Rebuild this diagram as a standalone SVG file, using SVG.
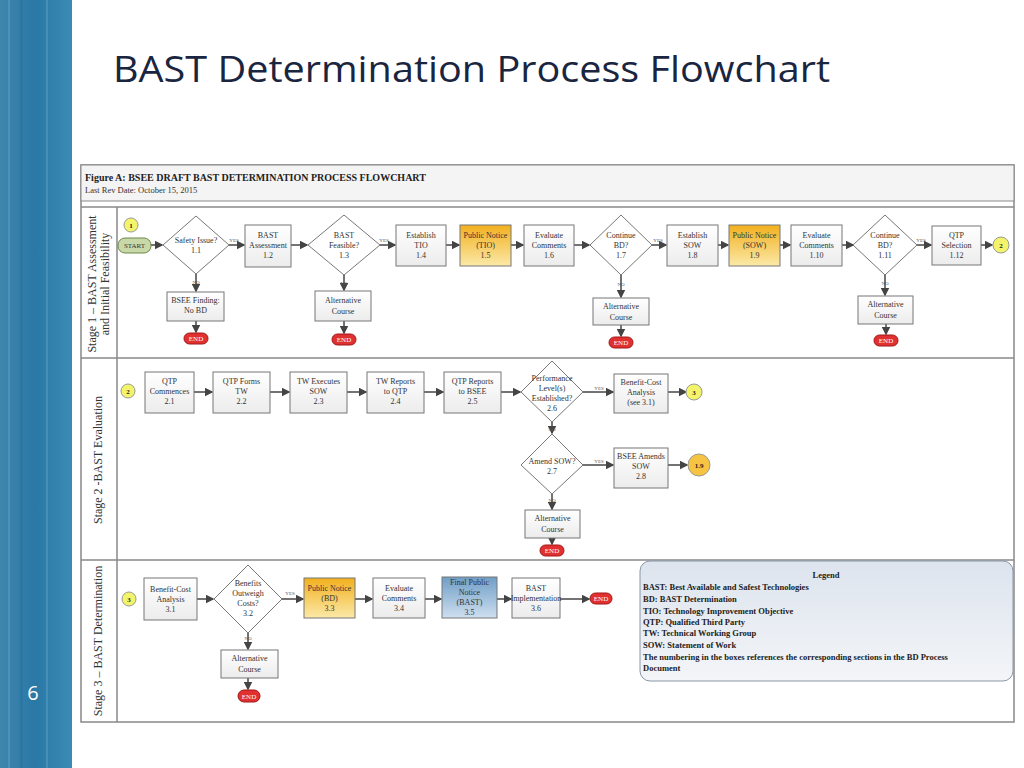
<svg xmlns="http://www.w3.org/2000/svg" width="1024" height="768" viewBox="0 0 1024 768">
<defs>
<linearGradient id="bg" x1="0" y1="0" x2="1" y2="0"><stop offset="0" stop-color="#3f86ad"/><stop offset="0.5" stop-color="#2a78a6"/><stop offset="1" stop-color="#3b8bb5"/></linearGradient>
<linearGradient id="yel" x1="0" y1="0" x2="0" y2="1"><stop offset="0" stop-color="#f2b01e"/><stop offset="1" stop-color="#fbe9a8"/></linearGradient>
<linearGradient id="blu" x1="0" y1="0" x2="0" y2="1"><stop offset="0" stop-color="#6f9ec6"/><stop offset="1" stop-color="#cfdff0"/></linearGradient>
<linearGradient id="box" x1="0" y1="0" x2="0" y2="1"><stop offset="0" stop-color="#ffffff"/><stop offset="1" stop-color="#ececec"/></linearGradient>
<linearGradient id="leg" x1="0" y1="0" x2="0" y2="1"><stop offset="0" stop-color="#dde4ee"/><stop offset="1" stop-color="#f3f5f8"/></linearGradient>
<marker id="ar" markerWidth="6" markerHeight="6" refX="5" refY="3" orient="auto"><path d="M0,0 L6,3 L0,6 z" fill="#444"/></marker>
</defs>
<style>
.t{font-family:"Liberation Serif",serif;font-size:8px;fill:#333;text-anchor:middle}
.s{font-family:"Liberation Serif",serif;font-size:5px;fill:#555;text-anchor:middle}
.b{fill:url(#box);stroke:#777;stroke-width:1}
.d{fill:#fff;stroke:#777;stroke-width:1}
.end{fill:#e03030;stroke:#a01818;stroke-width:1}
.et{font-family:"Liberation Serif",serif;font-size:7px;fill:#fff;text-anchor:middle}
.c{fill:#f4f46a;stroke:#999;stroke-width:1}
.ct{font-family:"Liberation Serif",serif;font-size:7px;font-weight:bold;fill:#222;text-anchor:middle}
.cn path{stroke:#444;stroke-width:1.5;fill:none;marker-end:url(#ar)}
.lane{font-family:"Liberation Serif",serif;font-size:12px;fill:#333;text-anchor:middle}
.lg{font-family:"Liberation Serif",serif;font-size:8.5px;font-weight:bold;fill:#222}
</style>
<rect width="1024" height="768" fill="#fff"/>
<rect x="0" y="0" width="72" height="768" fill="url(#bg)"/>
<rect x="8" y="0" width="2" height="768" fill="#5a9cc2" opacity="0.6"/>
<rect x="20" y="0" width="3" height="768" fill="#2370a0" opacity="0.5"/>
<rect x="46" y="0" width="2" height="768" fill="#5aa0c6" opacity="0.5"/>
<text x="33" y="700" font-family="Open Sans,sans-serif" font-size="20" fill="#fff" text-anchor="middle">6</text>
<text x="113" y="82" font-family="Open Sans,sans-serif" font-size="37" fill="#1a2540" textLength="717" lengthAdjust="spacingAndGlyphs">BAST Determination Process Flowchart</text>

<g id="frame">
<rect x="81" y="165" width="933" height="557" fill="#fff" stroke="#888" stroke-width="1.5"/>
<rect x="81" y="165" width="933" height="36" fill="#f4f4f4" stroke="#888"/>
<text x="85" y="181" font-family="Liberation Serif,serif" font-size="10" font-weight="bold" fill="#222">Figure A: BSEE DRAFT BAST  DETERMINATION PROCESS FLOWCHART</text>
<text x="85" y="193" font-family="Liberation Serif,serif" font-size="8.5" fill="#333">Last Rev Date: October 15, 2015</text>
<line x1="81" y1="207" x2="1014" y2="207" stroke="#888" stroke-width="1.5"/>
<line x1="81" y1="358" x2="1014" y2="358" stroke="#888" stroke-width="1.5"/>
<line x1="81" y1="560" x2="1014" y2="560" stroke="#888" stroke-width="1.5"/>
<line x1="117" y1="207" x2="117" y2="722" stroke="#888" stroke-width="1.5"/>
<text class="lane" transform="translate(96,284) rotate(-90)">Stage 1 – BAST Assessment</text>
<text class="lane" transform="translate(109,284) rotate(-90)">and Initial Feasibility</text>
<text class="lane" transform="translate(102,460) rotate(-90)">Stage 2 -BAST Evaluation</text>
<text class="lane" transform="translate(102,641) rotate(-90)">Stage 3 – BAST Determination</text>
</g>

<g class="cn" id="connectors">
<path d="M151,245 H162"/><path d="M229,245 H244"/><path d="M291,245 H307"/><path d="M380,245 H395"/>
<path d="M446,245 H459"/><path d="M511,245 H523"/><path d="M574,245 H589"/><path d="M652,245 H666"/>
<path d="M718,245 H728"/><path d="M780,245 H790"/><path d="M842,245 H853"/><path d="M917,245 H931"/><path d="M981,245 H992"/>
<path d="M196,274 V291"/><path d="M196,321 V332"/><path d="M344,275 V290"/><path d="M344,321 V333"/>
<path d="M621,275 V297"/><path d="M621,325 V336"/><path d="M885,275 V295"/><path d="M886,324 V334"/>
<path d="M194,392 H212"/><path d="M270,392 H289"/><path d="M347,392 H366"/><path d="M424,392 H443"/><path d="M501,392 H520"/>
<path d="M583,392 H613"/><path d="M668,392 H686"/><path d="M552,422 V433"/><path d="M583,465 H613"/><path d="M668,465 H687"/>
<path d="M552,494 V509"/><path d="M552,538 V544"/>
<path d="M197,599 H213"/><path d="M282,599 H303"/><path d="M355,599 H372"/><path d="M425,599 H441"/><path d="M497,599 H511"/><path d="M560,599 H589"/>
<path d="M248,633 V649"/><path d="M248,678 V689"/>
</g>
<g id="edge-labels">
<text class="s" x="234" y="242">YES</text><text class="s" x="384" y="242">YES</text><text class="s" x="658" y="242">YES</text><text class="s" x="921" y="242">YES</text>
<text class="s" x="196" y="284">NO</text><text class="s" x="344" y="285">NO</text><text class="s" x="621" y="286">NO</text><text class="s" x="885" y="285">NO</text>
<text class="s" x="599" y="390">YES</text><text class="s" x="552" y="431">NO</text><text class="s" x="599" y="463">YES</text><text class="s" x="552" y="502">NO</text>
<text class="s" x="290" y="595">YES</text><text class="s" x="248" y="640">NO</text>
</g>

<g id="n-c1"><circle class="c" cx="131" cy="225" r="7"/><text class="ct" x="131" y="228">1</text></g>
<g id="n-start"><rect x="118" y="238" width="33" height="15" rx="7" fill="#c8d8a8" stroke="#6a8a4a"/><text x="134.5" y="248" font-family="Liberation Serif,serif" font-size="7" fill="#333" text-anchor="middle">START</text></g>
<g id="n-1-1"><polygon class="d" points="196,216 229,245 196,274 163,245"/><text class="t" x="196" y="243">Safety Issue?</text><text class="t" x="196" y="253">1.1</text></g>
<g id="n-1-2"><rect class="b" x="245" y="225" width="46" height="42"/><text class="t" x="268" y="238">BAST</text><text class="t" x="268" y="248">Assessment</text><text class="t" x="268" y="258">1.2</text></g>
<g id="n-1-3"><polygon class="d" points="344,215 380,245 344,275 308,245"/><text class="t" x="344" y="238">BAST</text><text class="t" x="344" y="248">Feasible?</text><text class="t" x="344" y="258">1.3</text></g>
<g id="n-1-4"><rect class="b" x="396" y="225" width="50" height="41"/><text class="t" x="421" y="238">Establish</text><text class="t" x="421" y="248">TIO</text><text class="t" x="421" y="258">1.4</text></g>
<g id="n-1-5"><rect x="460" y="225" width="51" height="41" fill="url(#yel)" stroke="#777"/><text class="t" x="485.5" y="238">Public Notice</text><text class="t" x="485.5" y="248">(TIO)</text><text class="t" x="485.5" y="258">1.5</text></g>
<g id="n-1-6"><rect class="b" x="524" y="225" width="50" height="41"/><text class="t" x="549" y="238">Evaluate</text><text class="t" x="549" y="248">Comments</text><text class="t" x="549" y="258">1.6</text></g>
<g id="n-1-7"><polygon class="d" points="621,215 652,245 621,275 590,245"/><text class="t" x="621" y="238">Continue</text><text class="t" x="621" y="248">BD?</text><text class="t" x="621" y="258">1.7</text></g>
<g id="n-1-8"><rect class="b" x="667" y="225" width="51" height="41"/><text class="t" x="692.5" y="238">Establish</text><text class="t" x="692.5" y="248">SOW</text><text class="t" x="692.5" y="258">1.8</text></g>
<g id="n-1-9"><rect x="729" y="225" width="51" height="41" fill="url(#yel)" stroke="#777"/><text class="t" x="754.5" y="238">Public Notice</text><text class="t" x="754.5" y="248">(SOW)</text><text class="t" x="754.5" y="258">1.9</text></g>
<g id="n-1-10"><rect class="b" x="791" y="225" width="51" height="41"/><text class="t" x="816.5" y="238">Evaluate</text><text class="t" x="816.5" y="248">Comments</text><text class="t" x="816.5" y="258">1.10</text></g>
<g id="n-1-11"><polygon class="d" points="885,215 917,245 885,275 853,245"/><text class="t" x="885" y="238">Continue</text><text class="t" x="885" y="248">BD?</text><text class="t" x="885" y="258">1.11</text></g>
<g id="n-1-12"><rect class="b" x="932" y="226" width="49" height="39"/><text class="t" x="956.5" y="238">QTP</text><text class="t" x="956.5" y="248">Selection</text><text class="t" x="956.5" y="258">1.12</text></g>
<g id="n-c2a"><circle class="c" cx="1001" cy="245" r="8"/><text class="ct" x="1001" y="248">2</text></g>
<g id="n-nobd"><rect class="b" x="167" y="292" width="57" height="29"/><text class="t" x="195.5" y="303">BSEE Finding:</text><text class="t" x="195.5" y="313">No BD</text></g>
<g id="n-end1"><rect class="end" x="184" y="333" width="24" height="11" rx="5.5"/><text class="et" x="196" y="341">END</text></g>
<g id="n-alt13"><rect class="b" x="315" y="291" width="56" height="30"/><text class="t" x="343" y="303">Alternative</text><text class="t" x="343" y="314">Course</text></g>
<g id="n-end2"><rect class="end" x="332" y="334" width="24" height="11" rx="5.5"/><text class="et" x="344" y="342">END</text></g>
<g id="n-alt17"><rect class="b" x="593" y="298" width="56" height="27"/><text class="t" x="621" y="309">Alternative</text><text class="t" x="621" y="320">Course</text></g>
<g id="n-end3"><rect class="end" x="609" y="337" width="24" height="11" rx="5.5"/><text class="et" x="621" y="345">END</text></g>
<g id="n-alt111"><rect class="b" x="858" y="296" width="55" height="28"/><text class="t" x="885.5" y="307">Alternative</text><text class="t" x="885.5" y="318">Course</text></g>
<g id="n-end4"><rect class="end" x="874" y="335" width="24" height="11" rx="5.5"/><text class="et" x="886" y="343">END</text></g>

<g id="n-c2b"><circle class="c" cx="128" cy="391" r="7"/><text class="ct" x="128" y="394">2</text></g>
<g id="n-2-1"><rect class="b" x="145" y="372" width="49" height="41"/><text class="t" x="169.5" y="384">QTP</text><text class="t" x="169.5" y="394">Commences</text><text class="t" x="169.5" y="404">2.1</text></g>
<g id="n-2-2"><rect class="b" x="213" y="372" width="57" height="41"/><text class="t" x="241.5" y="384">QTP Forms</text><text class="t" x="241.5" y="394">TW</text><text class="t" x="241.5" y="404">2.2</text></g>
<g id="n-2-3"><rect class="b" x="290" y="372" width="57" height="41"/><text class="t" x="318.5" y="384">TW Executes</text><text class="t" x="318.5" y="394">SOW</text><text class="t" x="318.5" y="404">2.3</text></g>
<g id="n-2-4"><rect class="b" x="367" y="372" width="57" height="41"/><text class="t" x="395.5" y="384">TW Reports</text><text class="t" x="395.5" y="394">to QTP</text><text class="t" x="395.5" y="404">2.4</text></g>
<g id="n-2-5"><rect class="b" x="444" y="372" width="57" height="41"/><text class="t" x="472.5" y="384">QTP Reports</text><text class="t" x="472.5" y="394">to BSEE</text><text class="t" x="472.5" y="404">2.5</text></g>
<g id="n-2-6"><polygon class="d" points="552,361 583,392 552,422 521,392"/><text class="t" x="552" y="381">Performance</text><text class="t" x="552" y="391">Level(s)</text><text class="t" x="552" y="401">Established?</text><text class="t" x="552" y="411">2.6</text></g>
<g id="n-bca2"><rect class="b" x="614" y="374" width="54" height="39"/><text class="t" x="641" y="385">Benefit-Cost</text><text class="t" x="641" y="395">Analysis</text><text class="t" x="641" y="405">(see 3.1)</text></g>
<g id="n-c3a"><circle class="c" cx="694" cy="392" r="8"/><text class="ct" x="694" y="395">3</text></g>
<g id="n-2-7"><polygon class="d" points="552,434 583,465 552,494 521,465"/><text class="t" x="552" y="464">Amend SOW?</text><text class="t" x="552" y="474">2.7</text></g>
<g id="n-2-8"><rect class="b" x="614" y="448" width="54" height="40"/><text class="t" x="641" y="459">BSEE  Amends</text><text class="t" x="641" y="469">SOW</text><text class="t" x="641" y="479">2.8</text></g>
<g id="n-c19"><circle cx="699" cy="465" r="11" fill="#f6c342" stroke="#999"/><text class="ct" x="699" y="468">1.9</text></g>
<g id="n-alt27"><rect class="b" x="525" y="510" width="55" height="28"/><text class="t" x="552.5" y="521">Alternative</text><text class="t" x="552.5" y="532">Course</text></g>
<g id="n-end5"><rect class="end" x="540" y="545" width="24" height="11" rx="5.5"/><text class="et" x="552" y="553">END</text></g>

<g id="n-c3b"><circle class="c" cx="129" cy="599" r="7"/><text class="ct" x="129" y="602">3</text></g>
<g id="n-3-1"><rect class="b" x="144" y="578" width="53" height="42"/><text class="t" x="170.5" y="592">Benefit-Cost</text><text class="t" x="170.5" y="602">Analysis</text><text class="t" x="170.5" y="612">3.1</text></g>
<g id="n-3-2"><polygon class="d" points="248,565 282,599 248,633 214,599"/><text class="t" x="248" y="586">Benefits</text><text class="t" x="248" y="596">Outweigh</text><text class="t" x="248" y="606">Costs?</text><text class="t" x="248" y="616">3.2</text></g>
<g id="n-3-3"><rect x="304" y="578" width="51" height="40" fill="url(#yel)" stroke="#777"/><text class="t" x="329.5" y="591">Public Notice</text><text class="t" x="329.5" y="601">(BD)</text><text class="t" x="329.5" y="611">3.3</text></g>
<g id="n-3-4"><rect class="b" x="373" y="578" width="52" height="40"/><text class="t" x="399" y="591">Evaluate</text><text class="t" x="399" y="601">Comments</text><text class="t" x="399" y="611">3.4</text></g>
<g id="n-3-5"><rect x="442" y="577" width="55" height="41" fill="url(#blu)" stroke="#777"/><text class="t" x="469.5" y="585">Final Public</text><text class="t" x="469.5" y="595">Notice</text><text class="t" x="469.5" y="605">(BAST)</text><text class="t" x="469.5" y="615">3.5</text></g>
<g id="n-3-6"><rect class="b" x="512" y="578" width="48" height="40"/><text class="t" x="536" y="591">BAST</text><text class="t" x="536" y="601">Implementation</text><text class="t" x="536" y="611">3.6</text></g>
<g id="n-end6"><rect class="end" x="590" y="593" width="22" height="11" rx="5.5"/><text class="et" x="601" y="601">END</text></g>
<g id="n-alt32"><rect class="b" x="221" y="650" width="57" height="28"/><text class="t" x="249.5" y="661">Alternative</text><text class="t" x="249.5" y="672">Course</text></g>
<g id="n-end7"><rect class="end" x="238" y="690" width="22" height="12" rx="6"/><text class="et" x="249" y="699">END</text></g>

<g id="legend">
<rect x="640" y="561" width="373" height="120" rx="10" fill="url(#leg)" stroke="#8a97a8"/>
<text class="lg" x="826" y="578" text-anchor="middle">Legend</text>
<text class="lg" x="643" y="590">BAST: Best Available and Safest Technologies</text>
<text class="lg" x="643" y="602">BD: BAST Determination</text>
<text class="lg" x="643" y="614">TIO: Technology Improvement Objective</text>
<text class="lg" x="643" y="625">QTP: Qualified Third Party</text>
<text class="lg" x="643" y="636">TW: Technical Working Group</text>
<text class="lg" x="643" y="648">SOW: Statement of Work</text>
<text class="lg" x="643" y="660">The numbering in the boxes references the corresponding sections in the BD Process</text>
<text class="lg" x="643" y="671">Document</text>
</g>
</svg>
